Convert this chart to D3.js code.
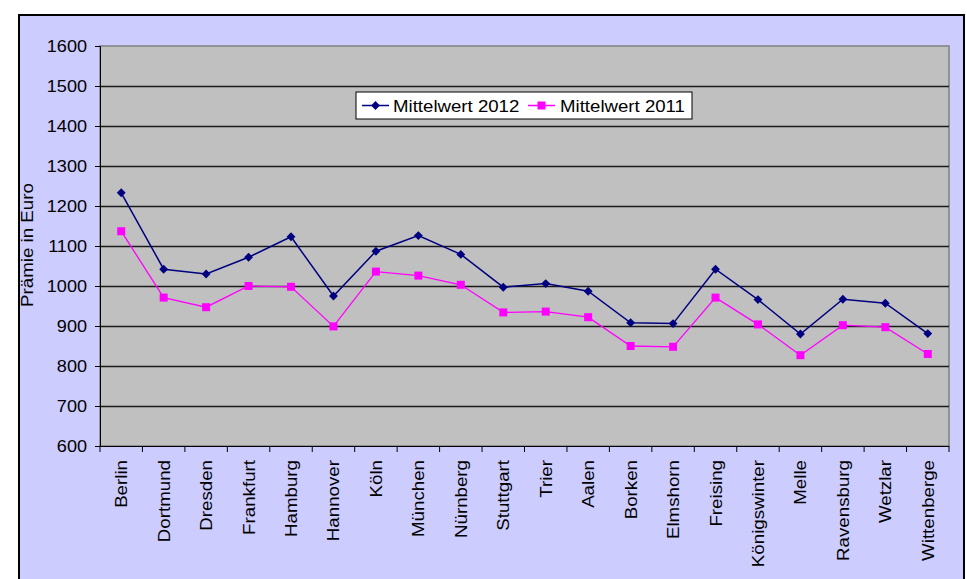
<!DOCTYPE html>
<html><head><meta charset="utf-8">
<script src="https://cdn.jsdelivr.net/npm/d3@7"></script>
<style>body{margin:0;background:#fff}svg{display:block;font-family:"Liberation Sans",Arial,sans-serif}</style>
</head><body><svg id="c" width="967" height="579"></svg>
<script>
const categories = ["Berlin","Dortmund","Dresden","Frankfurt","Hamburg","Hannover","Köln","München","Nürnberg","Stuttgart","Trier","Aalen","Borken","Elmshorn","Freising","Königswinter","Melle","Ravensburg","Wetzlar","Wittenberge"];
const mittelwert2012 = [1233,1042,1030,1072,1123,975,1087,1126,1079,997,1006,987,908,906,1042,966,880,967,957,881];
const mittelwert2011 = [1137,971,947,1000,998,899,1036,1026,1003,934,936,922,850,848,971,904,827,902,897,830];
const yTicks = [600,700,800,900,1000,1100,1200,1300,1400,1500,1600];
const seriesNames = ["Mittelwert 2012","Mittelwert 2011"];

const svg = d3.select("#c");
const SX = 1.13, SXL = 1.17;
const L = 100, R = 949, T = 46, B = 446;
const x = d3.scaleBand().domain(categories).range([L, R]);
const y = d3.scaleLinear().domain([600,1600]).range([B, T]);

// outer panel
svg.append("rect").attr("x",19).attr("y",15).attr("width",945).attr("height",570)
  .attr("fill","#CCCCFF").attr("stroke","#000").attr("stroke-width",2);

// plot area
svg.append("rect").attr("x",L).attr("y",T).attr("width",R-L).attr("height",B-T)
  .attr("fill","#C0C0C0").attr("stroke","#808080").attr("stroke-width",1.5);

// gridlines
svg.append("g").selectAll("line").data(yTicks.filter(d=>d>600 && d<1600)).join("line")
  .attr("x1",L).attr("x2",R).attr("y1",d=>Math.round(y(d))+0.5).attr("y2",d=>Math.round(y(d))+0.5)
  .attr("stroke","#1a1a1a").attr("stroke-width",1.3);

// y axis
const yAxis = svg.append("g").attr("transform",`translate(${L},0)`)
  .call(d3.axisLeft(y).tickValues(yTicks).tickSize(5).tickFormat(""));
yAxis.select(".domain").attr("stroke","#000");
yAxis.selectAll(".tick line").attr("stroke","#000");
svg.append("g").selectAll("g").data(yTicks).join("g")
  .attr("transform",d=>`translate(87,${y(d)+6}) scale(${SX},1)`)
  .append("text").attr("text-anchor","end").attr("font-size",16).attr("fill","#000").text(d=>d);

// x axis ticks between categories
const xt = d3.range(categories.length+1).map(i=>L + i*x.step());
svg.append("line").attr("x1",L).attr("x2",R).attr("y1",B+0.5).attr("y2",B+0.5).attr("stroke","#000");
svg.append("g").selectAll("line").data(xt).join("line")
  .attr("x1",d=>d).attr("x2",d=>d).attr("y1",B).attr("y2",B+6).attr("stroke","#000");
svg.append("g").selectAll("g").data(categories).join("g")
  .attr("transform",d=>`translate(${x(d)+x.bandwidth()/2+6},460) rotate(-90) scale(${SXL},1)`)
  .append("text").attr("text-anchor","end").attr("font-size",16).attr("fill","#000").text(d=>d);

// axis title
svg.append("g").attr("transform",`translate(33,245) rotate(-90) scale(${SXL},1)`)
  .append("text").attr("text-anchor","middle").attr("font-size",16).attr("fill","#000").text("Prämie in Euro");

// lines
const cx = d => x(d)+x.bandwidth()/2;
const line = d3.line().x(d=>cx(d.c)).y(d=>y(d.v));
const s12 = categories.map((c,i)=>({c,v:mittelwert2012[i]}));
const s11 = categories.map((c,i)=>({c,v:mittelwert2011[i]}));
svg.append("path").datum(s11).attr("d",line).attr("fill","none").attr("stroke","#FF00FF").attr("stroke-width",1.3);
svg.append("path").datum(s12).attr("d",line).attr("fill","none").attr("stroke","#000080").attr("stroke-width",1.5);
svg.append("g").selectAll("rect").data(s11).join("rect")
  .attr("x",d=>cx(d.c)-4).attr("y",d=>y(d.v)-4).attr("width",8).attr("height",8).attr("fill","#FF00FF");
const diamond = d3.symbol().type(d3.symbolDiamond2).size(50);
svg.append("g").selectAll("path").data(s12).join("path")
  .attr("transform",d=>`translate(${cx(d.c)},${y(d.v)})`).attr("d",diamond).attr("fill","#000080");

// legend
const lg = svg.append("g").attr("transform","translate(356,92)");
lg.append("rect").attr("width",336).attr("height",27).attr("fill","#fff").attr("stroke","#000").attr("stroke-width",1);
lg.append("line").attr("x1",6).attr("x2",33).attr("y1",13.5).attr("y2",13.5).attr("stroke","#000080").attr("stroke-width",1.5);
lg.append("path").attr("transform","translate(19.5,13.5)").attr("d",diamond).attr("fill","#000080");
lg.append("g").attr("transform",`translate(37,20) scale(${SX},1)`).append("text").attr("font-size",16.5).text(seriesNames[0]);
lg.append("line").attr("x1",172).attr("x2",199).attr("y1",13.5).attr("y2",13.5).attr("stroke","#FF00FF").attr("stroke-width",1.5);
lg.append("rect").attr("x",181.5).attr("y",9.5).attr("width",8).attr("height",8).attr("fill","#FF00FF");
lg.append("g").attr("transform",`translate(204,20) scale(${SX},1)`).append("text").attr("font-size",16.5).text(seriesNames[1]);
</script></body></html>
